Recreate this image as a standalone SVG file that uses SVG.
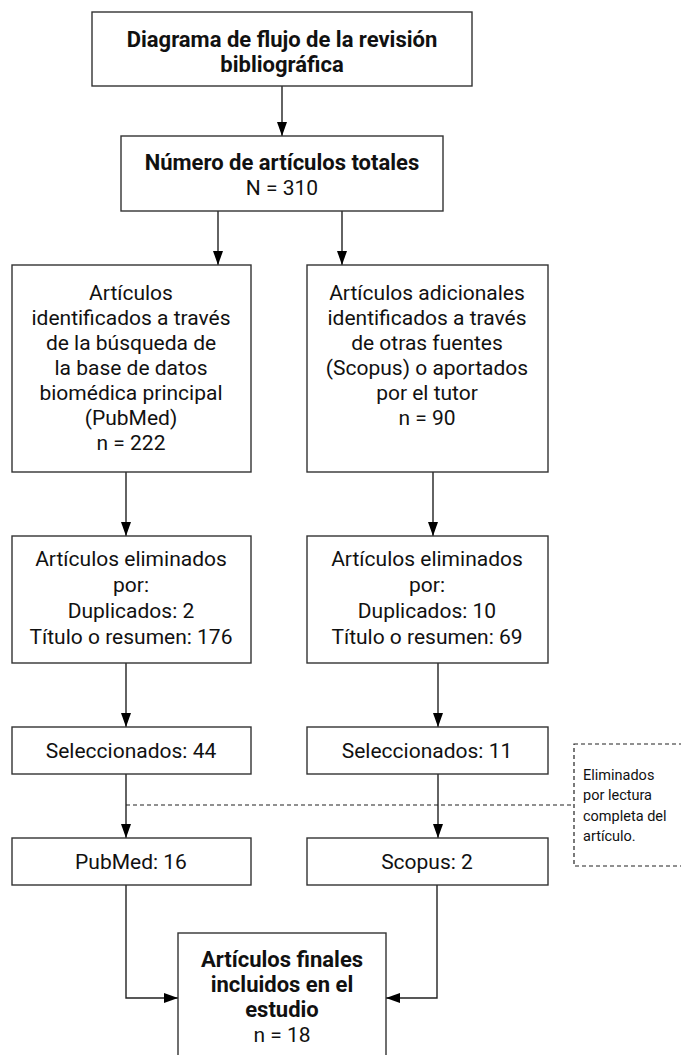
<svg xmlns="http://www.w3.org/2000/svg" width="681" height="1055" viewBox="0 0 681 1055">
<style>
.box{fill:#fff;stroke:#333;stroke-width:1.4}
.note{fill:none;stroke:#222;stroke-width:1.2;stroke-dasharray:4 3}
.t{font-family:Roboto,"Noto Sans",sans-serif;font-size:21px;fill:#111;text-anchor:middle}
.b{font-weight:bold;font-size:22px}
.s{font-family:Roboto,"Noto Sans",sans-serif;font-size:14.5px;fill:#111}
.c{fill:none;stroke:#222;stroke-width:1.4}
.d{fill:none;stroke:#222;stroke-width:1.2;stroke-dasharray:4 3}
</style>
<defs>
<marker id="ah" viewBox="0 0 14 10" refX="14" refY="5" markerWidth="14" markerHeight="10" markerUnits="userSpaceOnUse" orient="auto">
<path d="M0,0 L14,5 L0,10 z" fill="#000"/>
</marker>
</defs>
<rect width="681" height="1055" fill="#fff"/>
<g id="connectors">
<line class="c" x1="282" y1="86" x2="282" y2="136" marker-end="url(#ah)"/>
<line class="c" x1="218" y1="211" x2="218" y2="265" marker-end="url(#ah)"/>
<line class="c" x1="342" y1="211" x2="342" y2="265" marker-end="url(#ah)"/>
<line class="c" x1="126" y1="472" x2="126" y2="536" marker-end="url(#ah)"/>
<line class="c" x1="433" y1="472" x2="433" y2="536" marker-end="url(#ah)"/>
<line class="c" x1="126" y1="663" x2="126" y2="727" marker-end="url(#ah)"/>
<line class="c" x1="438" y1="663" x2="438" y2="727" marker-end="url(#ah)"/>
<line class="c" x1="126" y1="774" x2="126" y2="838" marker-end="url(#ah)"/>
<line class="c" x1="438" y1="774" x2="438" y2="838" marker-end="url(#ah)"/>
<polyline class="c" points="126,885 126,998 178,998" marker-end="url(#ah)"/>
<polyline class="c" points="437,885 437,998 386,998" marker-end="url(#ah)"/>
<line class="d" x1="126" y1="805" x2="574" y2="805"/>
</g>
<g id="title">
<rect class="box" x="92" y="12" width="380" height="74"/>
<text class="t b" x="282" y="47">Diagrama de flujo de la revisión</text>
<text class="t b" x="282" y="72">bibliográfica</text>
</g>
<g id="total">
<rect class="box" x="121" y="136" width="322" height="75"/>
<text class="t b" x="282" y="170">Número de artículos totales</text>
<text class="t" x="282" y="195">N = 310</text>
</g>
<g id="pubmed-id">
<rect class="box" x="12" y="265" width="239" height="207"/>
<text class="t" x="131" y="300">Artículos</text>
<text class="t" x="131" y="325">identificados a través</text>
<text class="t" x="131" y="350">de la búsqueda de</text>
<text class="t" x="131" y="375">la base de datos</text>
<text class="t" x="131" y="400">biomédica principal</text>
<text class="t" x="131" y="425">(PubMed)</text>
<text class="t" x="131" y="450">n = 222</text>
</g>
<g id="other-id">
<rect class="box" x="307" y="265" width="241" height="207"/>
<text class="t" x="427" y="300">Artículos adicionales</text>
<text class="t" x="427" y="325">identificados a través</text>
<text class="t" x="427" y="350">de otras fuentes</text>
<text class="t" x="427" y="375">(Scopus) o aportados</text>
<text class="t" x="427" y="400">por el tutor</text>
<text class="t" x="427" y="425">n = 90</text>
</g>
<g id="pubmed-elim">
<rect class="box" x="12" y="536" width="239" height="127"/>
<text class="t" x="131" y="566">Artículos eliminados</text>
<text class="t" x="131" y="592">por:</text>
<text class="t" x="131" y="618">Duplicados: 2</text>
<text class="t" x="131" y="644">Título o resumen: 176</text>
</g>
<g id="other-elim">
<rect class="box" x="307" y="536" width="241" height="127"/>
<text class="t" x="427" y="566">Artículos eliminados</text>
<text class="t" x="427" y="592">por:</text>
<text class="t" x="427" y="618">Duplicados: 10</text>
<text class="t" x="427" y="644">Título o resumen: 69</text>
</g>
<g id="pubmed-sel">
<rect class="box" x="12" y="727" width="239" height="47"/>
<text class="t" x="131" y="758">Seleccionados: 44</text>
</g>
<g id="other-sel">
<rect class="box" x="307" y="727" width="241" height="47"/>
<text class="t" x="427" y="758">Seleccionados: 11</text>
</g>
<g id="note">
<rect class="note" x="574" y="744" width="120" height="122"/>
<text class="s" x="583" y="780">Eliminados</text>
<text class="s" x="583" y="800">por lectura</text>
<text class="s" x="583" y="821">completa del</text>
<text class="s" x="583" y="841">artículo.</text>
</g>
<g id="pubmed-final">
<rect class="box" x="12" y="838" width="239" height="47"/>
<text class="t" x="131" y="869">PubMed: 16</text>
</g>
<g id="scopus-final">
<rect class="box" x="307" y="838" width="241" height="47"/>
<text class="t" x="427" y="869">Scopus: 2</text>
</g>
<g id="final">
<rect class="box" x="178" y="933" width="208" height="130"/>
<text class="t b" x="282" y="967">Artículos finales</text>
<text class="t b" x="282" y="992">incluidos en el</text>
<text class="t b" x="282" y="1017">estudio</text>
<text class="t" x="282" y="1042">n = 18</text>
</g>
</svg>
